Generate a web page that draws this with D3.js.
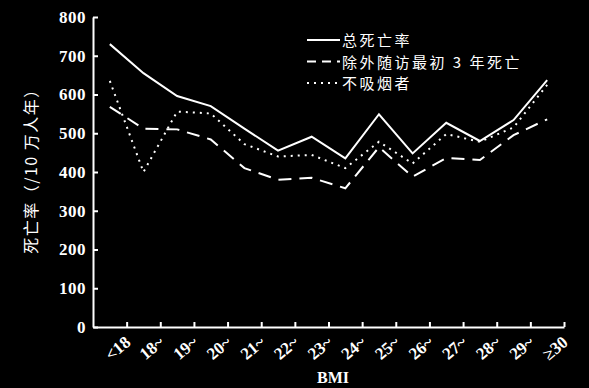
<!DOCTYPE html>
<html>
<head>
<meta charset="utf-8">
<script src="https://cdn.jsdelivr.net/npm/d3@7"></script>
<style>
  body { margin: 0; background: #000; }
  svg { display: block; background: #000; }
</style>
</head>
<body>
<div id="chart"></div>
<script>
// BMI groups on the x axis
var categories = ['<18', '18~', '19~', '20~', '21~', '22~', '23~', '24~', '25~', '26~', '27~', '28~', '29~', '≥30'];

// death rate per 100k person-years
var totalDeaths   = [730, 655, 596, 570, 512, 455, 491, 435, 549, 448, 527, 480, 534, 637];
var excludeFirst3 = [568, 512, 510, 484, 410, 380, 385, 358, 464, 388, 436, 431, 495, 536];
var nonSmokers    = [635, 400, 556, 551, 472, 440, 444, 410, 478, 422, 498, 478, 515, 625];

var yTicks = [0, 100, 200, 300, 400, 500, 600, 700, 800];

var seriesNames = ['总死亡率', '除外随访最初 3 年死亡', '不吸烟者'];

var W = 589, H = 388;
var margin = {top: 17, left: 93, right: 25, bottom: 61};
var width = W - margin.left - margin.right,
    height = H - margin.top - margin.bottom;

var svg = d3.select('#chart').append('svg')
    .attr('width', W)
    .attr('height', H);

var g = svg.append('g')
    .attr('transform', 'translate(' + margin.left + ',' + margin.top + ')');

var x = d3.scaleBand().domain(categories).range([0, width]).padding(0);
var xEdge = d3.scaleLinear().domain([0, categories.length]).range([0, width]);
var y = d3.scaleLinear().domain([0, 800]).range([height, 0]);

var serif = '"Liberation Serif", "DejaVu Serif", serif';
var cjk = '"Noto Sans CJK SC", sans-serif';

// y axis, ticks pointing inward
var yAxis = g.append('g')
    .call(d3.axisLeft(y).tickValues(yTicks).tickSize(-5).tickPadding(7).tickSizeOuter(0));
yAxis.select('.domain').attr('stroke', '#fff').attr('stroke-width', 2);
yAxis.selectAll('.tick line').attr('stroke', '#fff').attr('stroke-width', 2);
yAxis.selectAll('.tick text')
    .style('font-family', serif)
    .style('font-size', '17px')
    .style('font-weight', 'bold')
    .style('letter-spacing', '0.5px')
    .attr('fill', '#fff');

// x axis: ticks on the band edges
var xAxis = g.append('g')
    .attr('transform', 'translate(0,' + height + ')')
    .call(d3.axisBottom(xEdge).tickValues(d3.range(1, categories.length + 1)).tickSize(-5).tickFormat('').tickSizeOuter(0));
xAxis.select('.domain').attr('stroke', '#fff').attr('stroke-width', 2);
xAxis.selectAll('.tick line').attr('stroke', '#fff').attr('stroke-width', 2);

// rotated category labels
g.append('g').selectAll('text')
    .data(categories)
    .enter()
    .append('text')
    .attr('transform', function (d) {
        return 'translate(' + (x(d) + x.bandwidth() + 5) + ',' + (height + 17) + ') rotate(-40)';
    })
    .attr('text-anchor', 'end')
    .attr('fill', '#fff')
    .style('font-family', serif)
    .style('font-size', '17px')
    .style('font-weight', 'bold')
    .text(function (d) { return d; });

// axis titles
svg.append('text')
    .attr('transform', 'translate(37,167) rotate(-90)')
    .attr('text-anchor', 'middle')
    .attr('fill', '#fff')
    .style('font-family', cjk)
    .style('font-size', '16px')
    .style('letter-spacing', '1.5px')
    .text('死亡率（/10 万人年）');

svg.append('text')
    .attr('x', 333)
    .attr('y', 383)
    .attr('text-anchor', 'middle')
    .attr('fill', '#fff')
    .style('font-family', serif)
    .style('font-size', '16px')
    .style('font-weight', 'bold')
    .text('BMI');

// lines
var line = d3.line()
    .x(function (d, i) { return x(categories[i]) + x.bandwidth() / 2; })
    .y(function (d) { return y(d); });

var styles = [
    {data: totalDeaths, dash: null, key: null},
    {data: excludeFirst3, dash: '13,8', key: '9,6'},
    {data: nonSmokers, dash: '2,5', key: '2,5'}
];

styles.forEach(function (s) {
    g.append('path')
        .datum(s.data)
        .attr('d', line)
        .attr('fill', 'none')
        .attr('stroke', '#fff')
        .attr('stroke-width', 2)
        .attr('stroke-dasharray', s.dash);
});

// legend
var legend = svg.append('g').attr('transform', 'translate(307,40)');
styles.forEach(function (s, i) {
    var row = legend.append('g').attr('transform', 'translate(0,' + (i * 21.5) + ')');
    row.append('line')
        .attr('x1', 0).attr('x2', 33)
        .attr('y1', 0).attr('y2', 0)
        .attr('stroke', '#fff')
        .attr('stroke-width', 2)
        .attr('stroke-dasharray', s.key);
    row.append('text')
        .attr('x', 35)
        .attr('y', 6)
        .attr('fill', '#fff')
        .style('font-family', cjk)
        .style('font-size', '15px')
        .style('letter-spacing', '2.5px')
        .text(seriesNames[i]);
});
</script>
</body>
</html>
